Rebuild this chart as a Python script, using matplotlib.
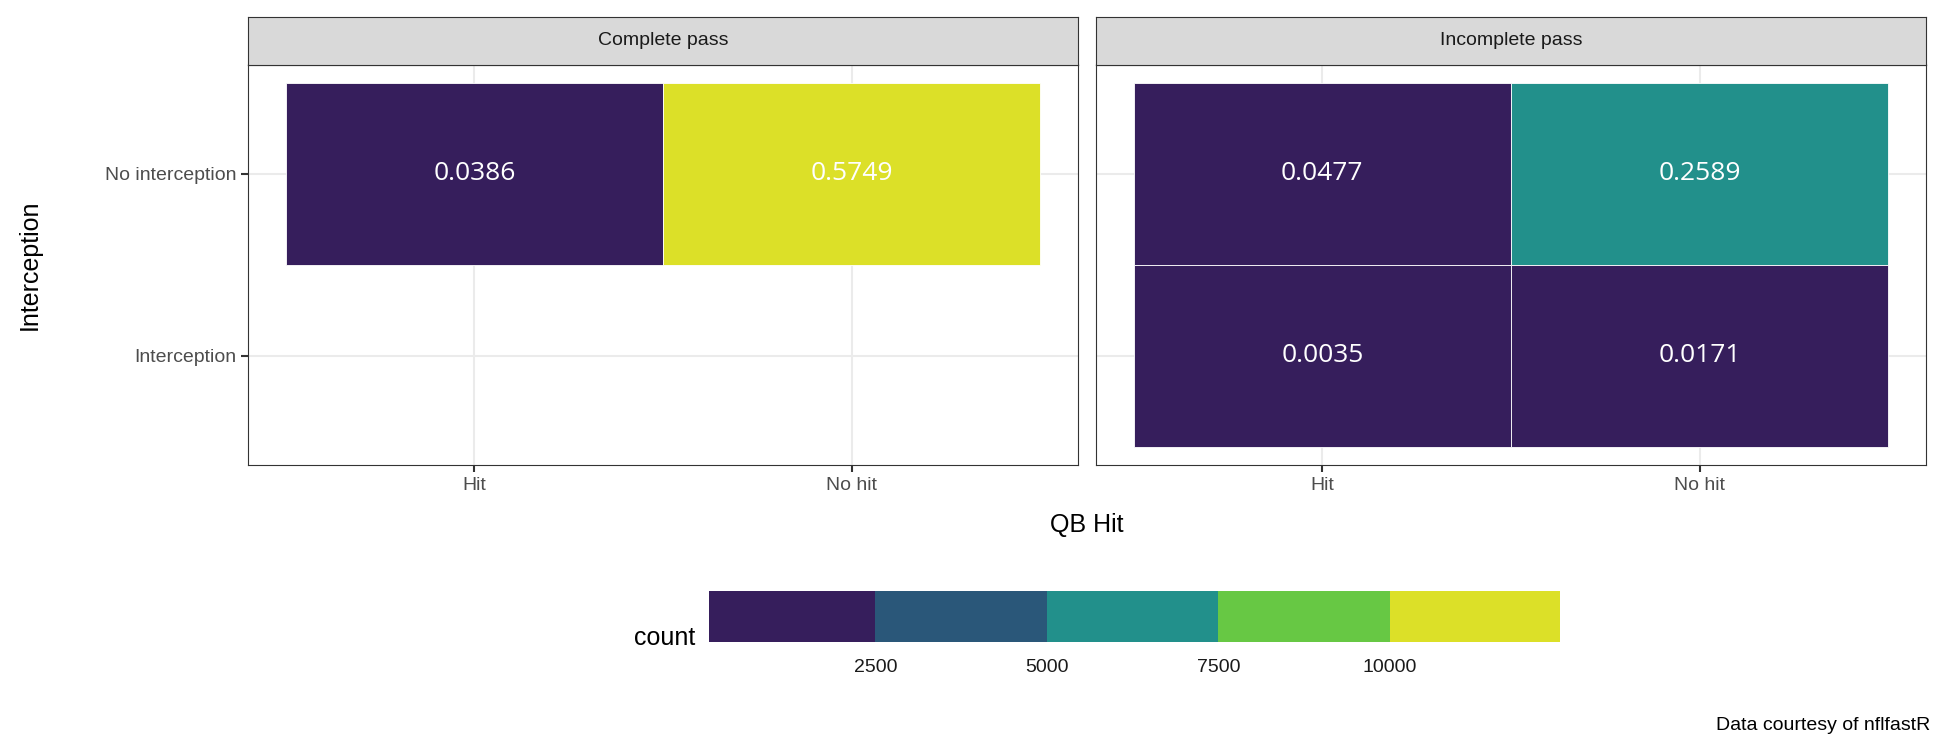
import matplotlib
matplotlib.use('Agg')
import matplotlib.pyplot as plt
from matplotlib.patches import Rectangle
import numpy as np

plt.rcParams['font.family'] = ['Liberation Sans', 'DejaVu Sans']

panels = ['Complete pass', 'Incomplete pass']
x_labels = ['Hit', 'No hit']
y_labels = ['Interception', 'No interception']
# (panel, x, y, proportion, count)
tiles = {
    'Complete pass': [('Hit', 'No interception', 0.0386, 838),
                      ('No hit', 'No interception', 0.5749, 12480)],
    'Incomplete pass': [('Hit', 'No interception', 0.0477, 1035),
                        ('No hit', 'No interception', 0.2589, 5620),
                        ('Hit', 'Interception', 0.0035, 76),
                        ('No hit', 'Interception', 0.0171, 371)],
}
bin_edges = [0, 2500, 5000, 7500, 10000, 12500]
bin_colors = ['#361E5C', '#2A5779', '#22908B', '#67C844', '#DCE028']

def color_for(c):
    for i in range(len(bin_colors)):
        if c < bin_edges[i + 1]:
            return bin_colors[i]
    return bin_colors[-1]

W, H = 1944, 756
fig = plt.figure(figsize=(W / 100, H / 100), dpi=100)
pos = [(248, 1078), (1096, 1926)]
for p, (x0, x1) in zip(panels, pos):
    ax = fig.add_axes([x0 / W, 1 - 465 / H, (x1 - x0) / W, (465 - 64.5) / H])
    ax.set_xlim(0.4, 2.6)
    ax.set_ylim(0.4, 2.6)
    ax.set_xticks([1, 2])
    ax.set_yticks([1, 2])
    ax.grid(True, color='#EBEBEB', lw=1.5)
    ax.set_axisbelow(True)
    for s in ax.spines.values():
        s.set_color('#333333')
    ax.set_xticklabels(x_labels, fontsize=14, color='#4D4D4D')
    if p == panels[0]:
        ax.set_yticklabels(y_labels, fontsize=14, color='#4D4D4D')
        ax.tick_params(colors='#333333', labelcolor='#4D4D4D', length=5, width=1.5)
    else:
        ax.set_yticklabels([])
        ax.tick_params(axis='y', length=0)
        ax.tick_params(axis='x', colors='#333333', labelcolor='#4D4D4D', length=5, width=1.5)
    for xl, yl, prop, cnt in tiles[p]:
        xi = x_labels.index(xl) + 1
        yi = y_labels.index(yl) + 1
        ax.add_patch(Rectangle((xi - 0.5, yi - 0.5), 1, 1, facecolor=color_for(cnt),
                               edgecolor='white', lw=0.6, zorder=2))
        ax.text(xi, yi, f'{prop:.4f}', ha='center', va='center', color='white',
                fontsize=19, family=['Open Sans', 'DejaVu Sans'], zorder=3)
    # strip
    sax = fig.add_axes([x0 / W, 1 - 64.5 / H, (x1 - x0) / W, (64.5 - 17) / H])
    sax.set_facecolor('#D9D9D9')
    sax.set_xticks([]); sax.set_yticks([])
    for s in sax.spines.values():
        s.set_color('#333333')
    sax.text(0.5, 0.5, p, ha='center', va='center', fontsize=14, color='#1A1A1A',
             transform=sax.transAxes)

fig.text(30 / W, 1 - 265 / H, 'Interception', rotation=90, ha='center', va='center', fontsize=18)
fig.text(1087 / W, 1 - 525 / H, 'QB Hit', ha='center', va='center', fontsize=18)

# colorbar
cax = fig.add_axes([709 / W, 1 - 642 / H, (1560 - 709) / W, 51 / H])
for i, c in enumerate(bin_colors):
    cax.add_patch(Rectangle((bin_edges[i], 0), 2500, 1, facecolor=c, edgecolor='none'))
cax.set_xlim(76, 12480)
cax.set_ylim(0, 1)
cax.set_yticks([])
cax.set_xticks([2500, 5000, 7500, 10000])
cax.set_xticklabels(['2500', '5000', '7500', '10000'], fontsize=14, color='#1A1A1A')
cax.tick_params(axis='x', length=0, pad=12)
for s in cax.spines.values():
    s.set_visible(False)
fig.text(695 / W, 1 - 638 / H, 'count', ha='right', va='center', fontsize=18)
fig.text(1930 / W, 1 - 725 / H, 'Data courtesy of nflfastR', ha='right', va='center', fontsize=14)

fig.savefig('out.png', dpi=100)
